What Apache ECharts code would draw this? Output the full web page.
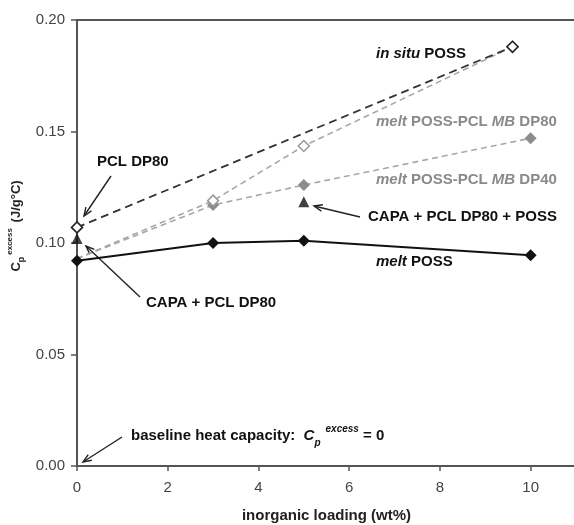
<!DOCTYPE html>
<html>
<head>
<meta charset="utf-8">
<script src="https://cdn.jsdelivr.net/npm/echarts@6/dist/echarts.min.js"></script>
<style>
  html, body { margin: 0; padding: 0; background: #fff; }
  #chart { width: 574px; height: 525px; }
</style>
</head>
<body>
<div id="chart"></div>
<script>
// values
const meltPossX = [0, 3, 5, 10];
const meltPoss = [0.092, 0.100, 0.101, 0.0945];
const inSituX = [0, 9.6];
const inSitu = [0.107, 0.188];
const mb80X = [0, 3, 5, 9.6];
const mb80 = [0.093, 0.119, 0.1435, 0.188];
const mb40X = [0, 3, 5, 10];
const mb40 = [0.093, 0.117, 0.126, 0.147];
const capaX = [0, 5];
const capa = [0.102, 0.1185];
const xTicks = [0, 2, 4, 6, 8, 10];
const yTicks = [0, 0.05, 0.10, 0.15, 0.20];

const FONT = 'Liberation Sans, Arial, sans-serif';
const chart = echarts.init(document.getElementById('chart'));

const pts = (xs, ys, hideFirst) => xs.map((x, i) => {
  const p = { value: [x, ys[i]] };
  if (hideFirst && i === 0) p.symbol = 'none';
  return p;
});

const arrow = (x1, y1, x2, y2) => {
  const a = Math.atan2(y2 - y1, x2 - x1), L = 9, w = 0.38;
  return {
    type: 'group',
    children: [
      { type: 'line', shape: { x1, y1, x2, y2 }, style: { stroke: '#222', lineWidth: 1.4 } },
      {
        type: 'polyline',
        shape: { points: [
          [x2 - L * Math.cos(a - w), y2 - L * Math.sin(a - w)],
          [x2, y2],
          [x2 - L * Math.cos(a + w), y2 - L * Math.sin(a + w)]
        ] },
        style: { stroke: '#222', lineWidth: 1.4, fill: null }
      }
    ]
  };
};

const label = (x, y, text, fill) => ({
  type: 'text', x, y,
  style: {
    text, fill: fill || '#111', fontFamily: FONT, fontSize: 15, fontWeight: 'bold',
    align: 'left', verticalAlign: 'middle',
    rich: {
      i: { fontStyle: 'italic', fontWeight: 'bold', fontSize: 15, fontFamily: FONT, fill: fill || '#111' }
    }
  }
});

chart.setOption({
  animation: false,
  grid: {
    left: 77, top: 20, width: 499, height: 446, outerBoundsMode: 'none', containLabel: false,
    show: true, borderColor: '#555', borderWidth: 2
  },
  xAxis: {
    type: 'value', min: 0, max: 11, interval: 2,
    name: 'inorganic loading (wt%)', nameLocation: 'middle', nameGap: 42,
    nameTextStyle: { fontFamily: FONT, fontSize: 15, fontWeight: 'bold', color: '#222' },
    axisLine: { show: true, lineStyle: { color: '#555', width: 2 } },
    axisTick: { show: true, length: 5, lineStyle: { color: '#555', width: 1.5 } },
    axisLabel: {
      fontFamily: FONT, fontSize: 15, color: '#444', margin: 14, showMaxLabel: false,
      formatter: v => xTicks.includes(v) ? String(v) : ''
    },
    splitLine: { show: false }
  },
  yAxis: {
    type: 'value', min: 0, max: 0.2, interval: 0.05,
    axisLine: { show: true, lineStyle: { color: '#555', width: 2 } },
    axisTick: { show: true, length: 6, lineStyle: { color: '#555', width: 1.5 } },
    axisLabel: {
      fontFamily: FONT, fontSize: 15, color: '#444', margin: 12,
      formatter: v => yTicks.some(t => Math.abs(t - v) < 1e-9) ? v.toFixed(2) : ''
    },
    splitLine: { show: false }
  },
  series: [
    {
      name: 'melt POSS-PCL MB DP40', type: 'line', data: pts(mb40X, mb40, true),
      symbol: 'diamond', symbolSize: 12,
      lineStyle: { color: '#a8a8a8', width: 1.6, type: [6, 4] },
      itemStyle: { color: '#8c8c8c' }, z: 2
    },
    {
      name: 'melt POSS-PCL MB DP80', type: 'line', data: pts(mb80X, mb80, true),
      symbol: 'diamond', symbolSize: 11, showAllSymbol: true,
      lineStyle: { color: '#a8a8a8', width: 1.6, type: [6, 4] },
      itemStyle: { color: '#fff', borderColor: '#999', borderWidth: 1.5 }, z: 2
    },
    {
      name: 'in situ POSS', type: 'line', data: pts(inSituX, inSitu, false),
      symbol: 'diamond', symbolSize: 11,
      lineStyle: { color: '#333', width: 1.8, type: [8, 5] },
      itemStyle: { color: '#fff', borderColor: '#222', borderWidth: 1.6 }, z: 3
    },
    {
      name: 'melt POSS', type: 'line', data: pts(meltPossX, meltPoss, false),
      symbol: 'diamond', symbolSize: 12,
      lineStyle: { color: '#111', width: 2 },
      itemStyle: { color: '#111' }, z: 4
    },
    {
      name: 'CAPA + PCL DP80', type: 'scatter', data: pts(capaX, capa, false),
      symbol: 'triangle', symbolSize: 11,
      itemStyle: { color: '#111' }, z: 5
    }
  ],
  graphic: [
    {
      type: 'text', x: 16, y: 226, rotation: Math.PI / 2,
      style: {
        text: '{c|C}{s|p}{e|excess}{c| (J/g°C)}',
        align: 'center', verticalAlign: 'middle',
        rich: {
          c: { fontFamily: FONT, fontSize: 13, fontWeight: 'bold', fill: '#222', lineHeight: 20, verticalAlign: 'middle' },
          s: { fontFamily: FONT, fontSize: 9, fontWeight: 'bold', fill: '#222', lineHeight: 20, verticalAlign: 'bottom' },
          e: { fontFamily: FONT, fontSize: 8, fontWeight: 'bold', fill: '#222', lineHeight: 20, verticalAlign: 'top', padding: [0, 2, 0, 2] }
        }
      }
    },
    label(97, 162, 'PCL DP80'),
    label(146, 303, 'CAPA + PCL DP80'),
    label(368, 217, 'CAPA + PCL DP80 + POSS'),
    label(376, 262, '{i|melt} POSS'),
    label(376, 54, '{i|in situ} POSS'),
    label(376, 122, '{i|melt} POSS-PCL {i|MB} DP80', '#8a8a8a'),
    label(376, 180, '{i|melt} POSS-PCL {i|MB} DP40', '#8a8a8a'),
    {
      type: 'text', x: 131, y: 436,
      style: {
        text: '{b|baseline heat capacity:  }{c|C}{s|p}{e|excess}{b| = 0}',
        align: 'left', verticalAlign: 'middle',
        rich: {
          b: { fontFamily: FONT, fontSize: 15, fontWeight: 'bold', fill: '#111', lineHeight: 24, verticalAlign: 'middle' },
          c: { fontFamily: FONT, fontSize: 15, fontWeight: 'bold', fontStyle: 'italic', fill: '#111', lineHeight: 24, verticalAlign: 'middle' },
          s: { fontFamily: FONT, fontSize: 10, fontWeight: 'bold', fontStyle: 'italic', fill: '#111', lineHeight: 24, verticalAlign: 'bottom' },
          e: { fontFamily: FONT, fontSize: 10, fontWeight: 'bold', fontStyle: 'italic', fill: '#111', lineHeight: 24, verticalAlign: 'top', padding: [0, 0, 0, 5] }
        }
      }
    },
    arrow(111, 176, 84, 216),
    arrow(140, 297, 86, 246),
    arrow(360, 217, 314, 206),
    arrow(122, 437, 83, 462)
  ]
});
</script>
</body>
</html>
